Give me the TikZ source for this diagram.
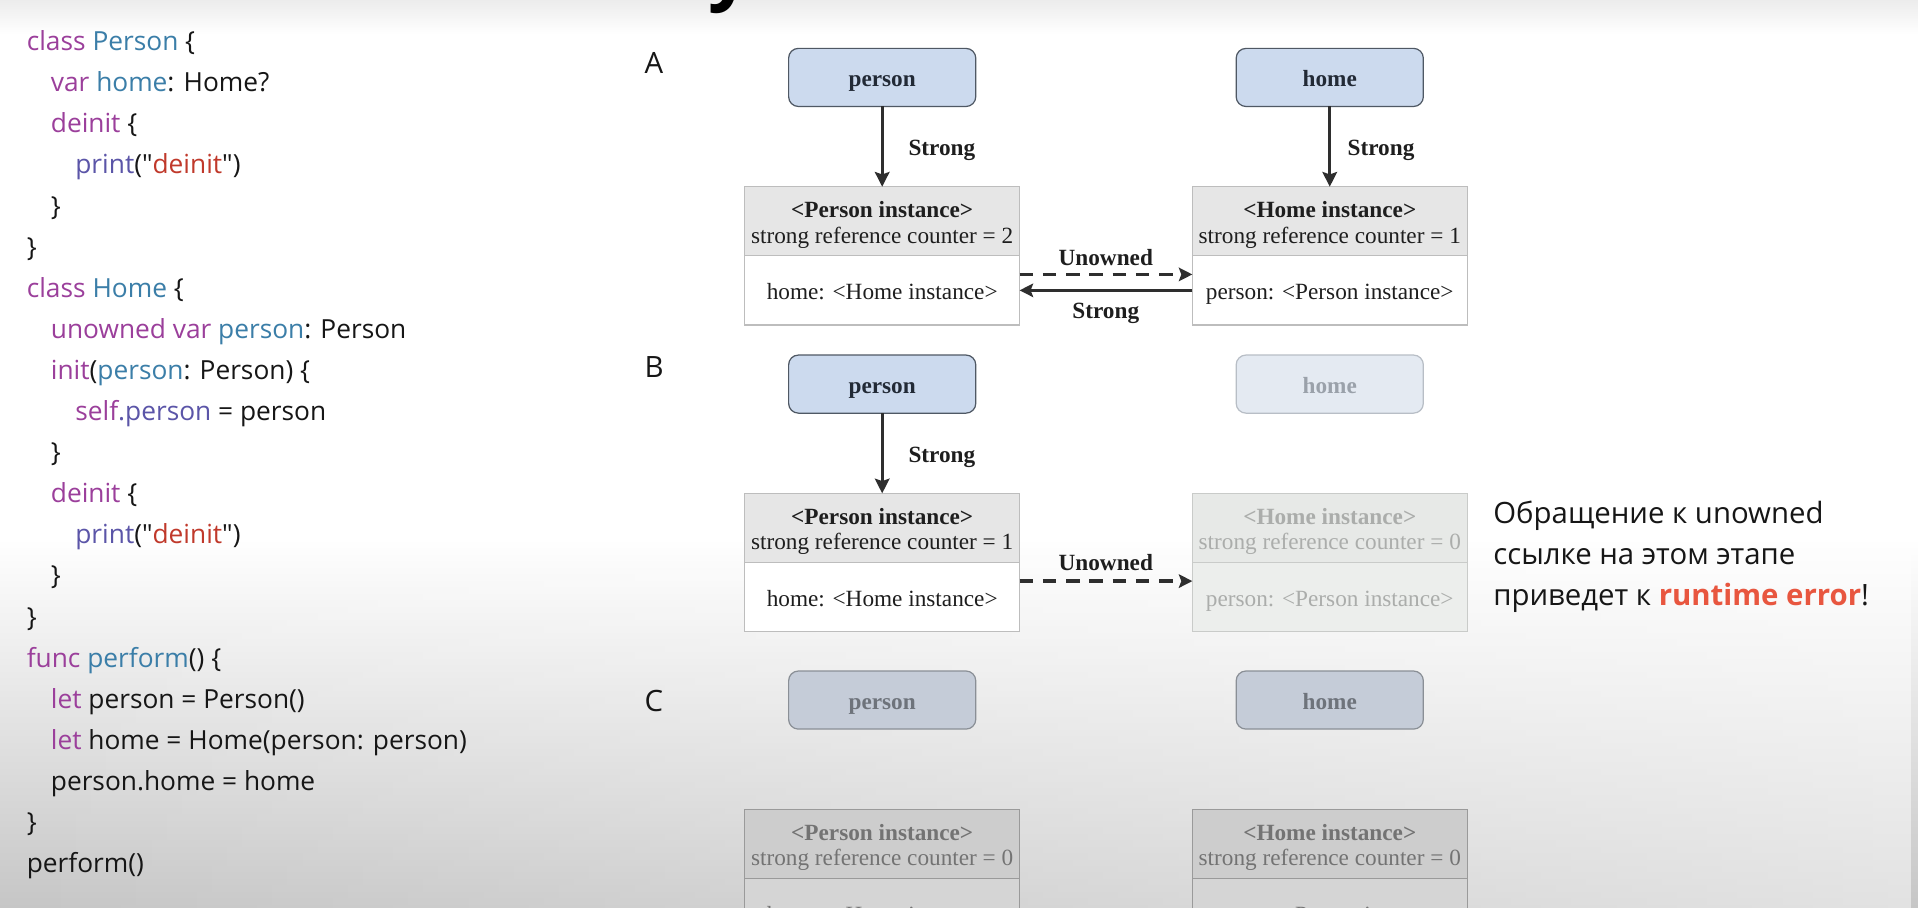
\documentclass[tikz,border=0pt]{standalone}
\usepackage{fontspec}
\setmainfont{Liberation Serif}
\newfontfamily\codefont{Open Sans}
\usetikzlibrary{arrows.meta,fadings}
\definecolor{kwc}{HTML}{9B3F9B}
\definecolor{idc}{HTML}{3B7EA8}
\definecolor{fnc}{HTML}{5B55A8}
\definecolor{strc}{HTML}{C0392B}
\definecolor{codek}{HTML}{161616}
\definecolor{errc}{HTML}{E8563F}
\definecolor{bluefill}{HTML}{CCDAEE}
\definecolor{blueline}{HTML}{4F5864}
\definecolor{bluetext}{HTML}{222A36}
\definecolor{fadefill}{HTML}{E4EAF2}
\definecolor{fadeline}{HTML}{B8BEC6}
\definecolor{fadetext}{HTML}{9AA1AA}
\definecolor{cfill}{HTML}{C5CCD8}
\definecolor{cline}{HTML}{8A8F96}
\definecolor{ctext}{HTML}{6E737B}
\definecolor{hdfill}{HTML}{E6E6E6}
\definecolor{hdline}{HTML}{BDBDBD}
\definecolor{hdtext}{HTML}{1E1E1E}
\definecolor{fhfill}{HTML}{E7E9E7}
\definecolor{fbfill}{HTML}{ECEEEC}
\definecolor{fhline}{HTML}{C9CBC9}
\definecolor{fhtext}{HTML}{ABADAB}
\definecolor{chfill}{HTML}{CDCDCD}
\definecolor{cbfill}{HTML}{D5D5D5}
\definecolor{chline}{HTML}{9A9A9A}
\definecolor{chtext}{HTML}{737373}
\definecolor{arrc}{HTML}{2E2E2E}
\definecolor{bgbot}{HTML}{C6C6C6}
\definecolor{bgtop}{HTML}{ECECEC}
\newcommand\ckw[1]{\textcolor{kwc}{#1}}
\newcommand\cid[1]{\textcolor{idc}{#1}}
\newcommand\cfn[1]{\textcolor{fnc}{#1}}
\newcommand\cstr[1]{\textcolor{strc}{#1}}
\newcommand\dfont{\fontsize{19}{21}\selectfont}
\newcommand\hdstrut{\rule{0pt}{19pt}}
\tikzset{
  every node/.style={inner sep=0pt, outer sep=0pt},
  codeln/.style={anchor=base west, font=\codefont\fontsize{21.5}{21.5}\selectfont, text=codek},
  stagelbl/.style={anchor=base west, font=\codefont\fontsize{24}{24}\selectfont, text=codek},
  notetxt/.style={anchor=base west, font=\codefont\fontsize{24}{24}\selectfont, text=codek},
  vbox/.style n args={3}{draw=#1, fill=#2, text=#3, rounded corners=8pt, minimum width=153pt, minimum height=47.5pt, line width=1pt, font=\dfont\bfseries, text height=16pt, text depth=1pt},
  ihead/.style n args={3}{draw=#1, fill=#2, text=#3, minimum width=224.7pt, minimum height=56.4pt, align=center, line width=0.9pt, font=\dfont},
  ibody/.style n args={3}{draw=#1, fill=#2, text=#3, minimum width=224.7pt, minimum height=56.7pt, line width=0.9pt, font=\dfont, anchor=north, text height=16pt, text depth=1pt},
  albl/.style={font=\dfont\bfseries, text=hdtext},
  vstrong/.style={draw=arrc, line width=2.2pt, -{Stealth[length=12pt,width=12pt,inset=2pt]}},
  hstrong/.style={draw=arrc, line width=2.8pt, -{Stealth[length=11pt,width=11pt,inset=2pt]}},
  hunowned/.style={draw=arrc, line width=2.8pt, dash pattern=on 11pt off 8pt, -{Stealth[length=11pt,width=11pt,inset=2pt]}},
}
\begin{document}
\begin{tikzpicture}[x=1pt,y=-1pt]
\useasboundingbox (0,0) rectangle (1568,742);
\begin{scope}
\clip (0,0) rectangle (1568,742);
% background
\fill[white] (0,0) rectangle (1568,742);
\shade[top color=bgtop, bottom color=white] (0,0) rectangle (1568,28);
\shade[top color=white, bottom color=bgbot] (0,440) rectangle (1568,742);
\fill[white, path fading=west, fill opacity=0.5] (0,440) rectangle (1568,742);
% cut title fragment
\node[anchor=base, font=\codefont\bfseries\fontsize{62}{62}\selectfont, text=black] (ttl) at (597,-3.5) {y};
% code
\node[codeln] (c0) at (21.9,41.4) {\ckw{class} \cid{Person} \{};
\node[codeln] (c1) at (41.6,75.0) {\ckw{var} \cid{home}: Home?};
\node[codeln] (c2) at (41.6,108.6) {\ckw{deinit} \{};
\node[codeln] (c3) at (61.6,142.2) {\cfn{print}("\cstr{deinit}")};
\node[codeln] (c4) at (41.6,175.8) {\}};
\node[codeln] (c5) at (21.9,209.4) {\}};
\node[codeln] (c6) at (21.9,243.0) {\ckw{class} \cid{Home} \{};
\node[codeln] (c7) at (41.6,276.6) {\ckw{unowned} \ckw{var} \cid{person}: Person};
\node[codeln] (c8) at (41.6,310.2) {\ckw{init}(\cid{person}: Person) \{};
\node[codeln] (c9) at (61.6,343.8) {\ckw{self}\cfn{.person} = person};
\node[codeln] (c10) at (41.6,377.4) {\}};
\node[codeln] (c11) at (41.6,411.0) {\ckw{deinit} \{};
\node[codeln] (c12) at (61.6,444.6) {\cfn{print}("\cstr{deinit}")};
\node[codeln] (c13) at (41.6,478.2) {\}};
\node[codeln] (c14) at (21.9,511.8) {\}};
\node[codeln] (c15) at (21.9,545.4) {\ckw{func} \cid{perform}() \{};
\node[codeln] (c16) at (41.6,579.0) {\ckw{let} person = Person()};
\node[codeln] (c17) at (41.6,612.6) {\ckw{let} home = Home(person: person)};
\node[codeln] (c18) at (41.6,646.2) {person.home = home};
\node[codeln] (c19) at (21.9,679.8) {\}};
\node[codeln] (c20) at (21.9,713.4) {perform()};
% stage labels
\node[stagelbl] (lA) at (527,60) {A};
\node[stagelbl] (lB) at (527,309) {B};
\node[stagelbl] (lC) at (527,581.5) {C};
% ---------- A ----------
\node[vbox={blueline}{bluefill}{bluetext}] (pA) at (721.2,63.3) {person};
\node[vbox={blueline}{bluefill}{bluetext}] (hA) at (1087.1,63.3) {home};
\node[ihead={hdline}{hdfill}{hdtext}] (piAh) at (721.2,180.8) {\hdstrut\textbf{<Person instance>}\\strong reference counter = 2};
\node[ibody={hdline}{white}{hdtext}] (piAb) at (piAh.south) {home: <Home instance>};
\node[ihead={hdline}{hdfill}{hdtext}] (hiAh) at (1087.1,180.8) {\hdstrut\textbf{<Home instance>}\\strong reference counter = 1};
\node[ibody={hdline}{white}{hdtext}] (hiAb) at (hiAh.south) {person: <Person instance>};
\draw[vstrong] (pA) -- (piAh);
\draw[vstrong] (hA) -- (hiAh);
\node[albl] (sA1) at (770,123) {Strong};
\node[albl] (sA2) at (1129,123) {Strong};
\draw[hunowned] ([yshift=13pt]piAb.east) -- ([yshift=13pt]hiAb.west);
\draw[hstrong] (hiAb.west) -- (piAb.east);
\node[albl] (uA) at (904,210.4) {Unowned};
\node[albl] (sA3) at (904,256) {Strong};
% ---------- B ----------
\node[vbox={blueline}{bluefill}{bluetext}] (pB) at (721.2,314) {person};
\node[vbox={fadeline}{fadefill}{fadetext}] (hB) at (1087.1,314) {home};
\node[ihead={hdline}{hdfill}{hdtext}] (piBh) at (721.2,431.5) {\hdstrut\textbf{<Person instance>}\\strong reference counter = 1};
\node[ibody={hdline}{white}{hdtext}] (piBb) at (piBh.south) {home: <Home instance>};
\node[ihead={fhline}{fhfill}{fhtext}] (hiBh) at (1087.1,431.5) {\hdstrut\textbf{<Home instance>}\\strong reference counter = 0};
\node[ibody={fhline}{fbfill}{fhtext}] (hiBb) at (hiBh.south) {person: <Person instance>};
\draw[vstrong] (pB) -- (piBh);
\node[albl] (sB1) at (770,373.7) {Strong};
\draw[hunowned] ([yshift=13pt]piBb.east) -- ([yshift=13pt]hiBb.west);
\node[albl] (uB) at (904,460) {Unowned};
% note
\node[notetxt] (n1) at (1220.8,427.8) {Обращение к unowned};
\node[notetxt] (n2) at (1220.8,461.6) {ссылке на этом этапе};
\node[notetxt] (n3) at (1220.8,495.0) {приведет к \textcolor{errc}{\bfseries runtime error}!};
% ---------- C ----------
\node[vbox={cline}{cfill}{ctext}] (pC) at (721.2,572.3) {person};
\node[vbox={cline}{cfill}{ctext}] (hC) at (1087.1,572.3) {home};
\node[ihead={chline}{chfill}{chtext}] (piCh) at (721.2,689.8) {\hdstrut\textbf{<Person instance>}\\strong reference counter = 0};
\node[ibody={chline}{cbfill}{chtext}] (piCb) at (piCh.south) {home: <Home instance>};
\node[ihead={chline}{chfill}{chtext}] (hiCh) at (1087.1,689.8) {\hdstrut\textbf{<Home instance>}\\strong reference counter = 0};
\node[ibody={chline}{cbfill}{chtext}] (hiCb) at (hiCh.south) {person: <Person instance>};
\end{scope}
\end{tikzpicture}
\end{document}
